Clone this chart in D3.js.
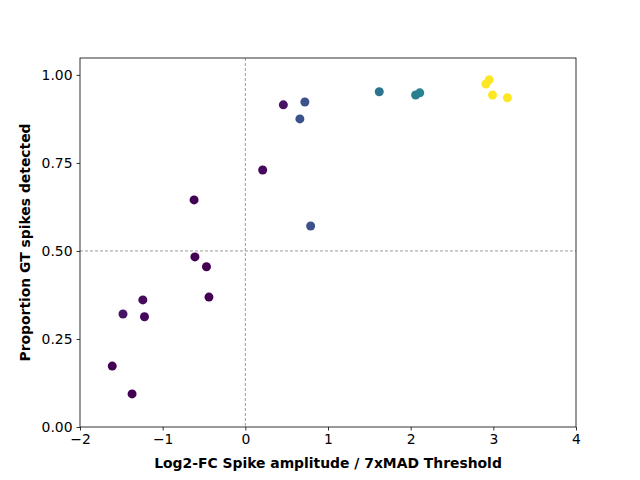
<!DOCTYPE html>
<html><head><meta charset="utf-8">
<script src="https://cdn.jsdelivr.net/npm/d3@7"></script>
<style>body{margin:0;background:#fff}text{font-family:"DejaVu Sans",sans-serif}</style>
</head><body><div id="chart"></div>
<script>
// data
var xVals = [-1.61,-1.37,-1.48,-1.24,-1.22,-0.62,-0.61,-0.47,-0.44,0.21,0.46,0.72,0.66,0.79,1.62,2.06,2.11,2.91,2.95,2.99,3.17];
var yVals = [0.173,0.094,0.321,0.361,0.313,0.645,0.483,0.455,0.369,0.730,0.915,0.923,0.875,0.571,0.952,0.943,0.949,0.974,0.986,0.943,0.935];
var cVals = [0.0,0.0,0.05,0.03,0.02,0.0,0.0,0.0,0.0,0.02,0.05,0.25,0.25,0.25,0.38,0.42,0.44,1.0,1.0,1.0,1.0];
var xTicks = [-2,-1,0,1,2,3,4];
var yTicks = [0,0.25,0.5,0.75,1.0];

var svgWidth = 640, svgHeight = 480;
var margin = {top: 58, right: 64, bottom: 53, left: 80};
var width = svgWidth - margin.left - margin.right;
var height = svgHeight - margin.top - margin.bottom;

var svg = d3.select("#chart").append("svg")
    .attr("width", svgWidth).attr("height", svgHeight);
var g = svg.append("g").attr("transform", `translate(${margin.left}, ${margin.top})`);

var x = d3.scaleLinear().domain([-2, 4]).range([0, width]);
var y = d3.scaleLinear().domain([0, 1.048]).range([height, 0]);

// reference lines
g.append("line").attr("x1", x(0)).attr("x2", x(0)).attr("y1", 0).attr("y2", height)
    .attr("stroke", "#808080").attr("stroke-width", 0.8).attr("stroke-dasharray", "3,2");
g.append("line").attr("x1", 0).attr("x2", width).attr("y1", y(0.5)).attr("y2", y(0.5))
    .attr("stroke", "#808080").attr("stroke-width", 0.8).attr("stroke-dasharray", "3,2");

// points
g.selectAll("circle").data(xVals).enter().append("circle")
    .attr("cx", (d, i) => x(d))
    .attr("cy", (d, i) => y(yVals[i]))
    .attr("r", 4.5)
    .attr("fill", (d, i) => d3.interpolateViridis(cVals[i]));

// axes
var xAxis = g.append("g").attr("transform", `translate(0, ${height})`)
    .call(d3.axisBottom(x).tickValues(xTicks).tickSize(3.5).tickPadding(4).tickFormat(d => d < 0 ? "\u2212" + Math.abs(d) : d));
var yAxis = g.append("g")
    .call(d3.axisLeft(y).tickValues(yTicks).tickSize(3.5).tickPadding(4).tickFormat(d3.format(".2f")));
[xAxis, yAxis].forEach(a => {
    a.selectAll("text").attr("font-size", "13.9px").attr("fill", "#000").style("font-family", "DejaVu Sans");
    a.selectAll("line").attr("stroke", "#000").attr("stroke-width", 0.8);
    a.select(".domain").remove();
});
g.append("rect").attr("width", width).attr("height", height)
    .attr("fill", "none").attr("stroke", "#000").attr("stroke-width", 0.8);

// labels
g.append("text").attr("x", width / 2).attr("y", height + 41)
    .attr("text-anchor", "middle").attr("font-size", "13.9px").attr("font-weight", "bold")
    .text("Log2-FC Spike amplitude / 7xMAD Threshold");
g.append("text").attr("transform", "rotate(-90)")
    .attr("x", -height / 2).attr("y", -50)
    .attr("text-anchor", "middle").attr("font-size", "13.9px").attr("font-weight", "bold")
    .text("Proportion GT spikes detected");
</script></body></html>
